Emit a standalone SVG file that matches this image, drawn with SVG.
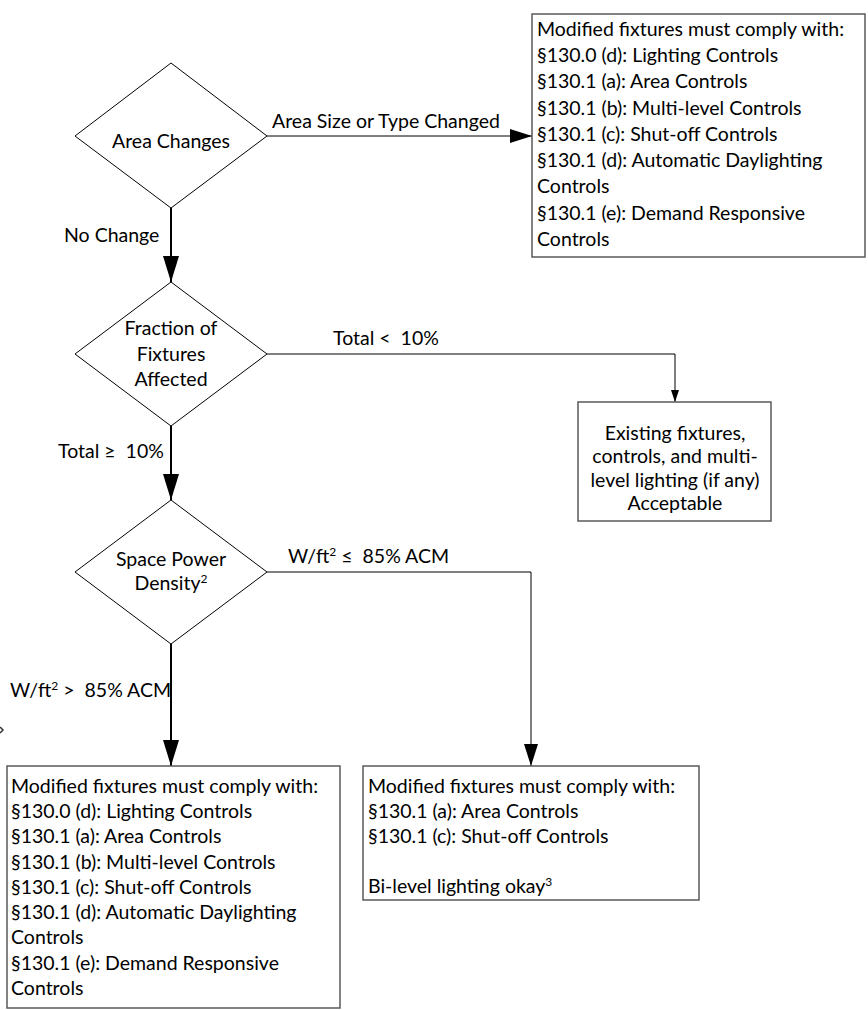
<svg xmlns="http://www.w3.org/2000/svg" width="868" height="1010" viewBox="0 0 868 1010">
<defs>
<style>
text{font-family:Lato,"Liberation Sans",sans-serif;font-size:19.5px;fill:#000;white-space:pre}
.c{text-anchor:middle}
.box{fill:#fff;stroke:#595959;stroke-width:1.5}
.dia{fill:#fff;stroke:#000;stroke-width:1}
.thin{fill:none;stroke:#000;stroke-width:1}
.thick{fill:none;stroke:#000;stroke-width:2}
</style>
<marker id="big" viewBox="0 0 26 16" refX="26" refY="8" markerWidth="26" markerHeight="16" markerUnits="userSpaceOnUse" orient="auto"><path d="M0,0L26,8L0,16z" fill="#000"/></marker>
<marker id="med" viewBox="0 0 22 14" refX="22" refY="7" markerWidth="22" markerHeight="14" markerUnits="userSpaceOnUse" orient="auto"><path d="M0,0L22,7L0,14z" fill="#000"/></marker>
<marker id="sm" viewBox="0 0 12 8" refX="12" refY="4" markerWidth="12" markerHeight="8" markerUnits="userSpaceOnUse" orient="auto"><path d="M0,0L12,4L0,8z" fill="#000"/></marker>
</defs>
<rect width="868" height="1010" fill="#fff"/>
<g id="connectors">
<path class="thin" d="M267,136H532" marker-end="url(#med)"/>
<path class="thick" d="M171,208V282" marker-end="url(#big)"/>
<path class="thin" d="M267,354H675V402" marker-end="url(#sm)"/>
<path class="thick" d="M171,426V500" marker-end="url(#big)"/>
<path class="thin" d="M267,572H531V766" marker-end="url(#med)"/>
<path class="thick" d="M171,644V766" marker-end="url(#big)"/>
<text x="272" y="128">Area Size or Type Changed</text>
<text x="64" y="242">No Change</text>
<text x="333" y="345">Total &lt;  10%</text>
<text x="58" y="458">Total ≥  10%</text>
<text x="288" y="563">W/ft<tspan font-size="12" dy="-7">2</tspan><tspan dy="7"> ≤  85% ACM</tspan></text>
<text x="10" y="697">W/ft<tspan font-size="12" dy="-7">2</tspan><tspan dy="7"> &gt;  85% ACM</tspan></text>
<path d="M0,727L3,730L0,733" fill="none" stroke="#333" stroke-width="1.5"/>
</g>
<g id="area-changes">
<polygon class="dia" points="171,63 267,136 171,208 75,136"/>
<text class="c" x="171" y="148">Area Changes</text>
</g>
<g id="modified-all-top">
<rect class="box" x="532" y="14" width="333" height="243"/>
<text x="537" y="36">Modified fixtures must comply with:</text>
<text x="537" y="62">§130.0 (d): Lighting Controls</text>
<text x="537" y="88">§130.1 (a): Area Controls</text>
<text x="537" y="115">§130.1 (b): Multi-level Controls</text>
<text x="537" y="141">§130.1 (c): Shut-off Controls</text>
<text x="537" y="167">§130.1 (d): Automatic Daylighting</text>
<text x="537" y="193">Controls</text>
<text x="537" y="220">§130.1 (e): Demand Responsive</text>
<text x="537" y="246">Controls</text>
</g>
<g id="fraction">
<polygon class="dia" points="171,282 267,354 171,426 75,354"/>
<text class="c" x="171" y="335">Fraction of</text>
<text class="c" x="171" y="361">Fixtures</text>
<text class="c" x="171" y="386">Affected</text>
</g>
<g id="existing">
<rect class="box" x="578" y="402" width="193" height="119"/>
<text class="c" x="675" y="440">Existing fixtures,</text>
<text class="c" x="675" y="463">controls, and multi-</text>
<text class="c" x="675" y="487">level lighting (if any)</text>
<text class="c" x="675" y="510">Acceptable</text>
</g>
<g id="spd">
<polygon class="dia" points="171,500 267,572 171,644 75,572"/>
<text class="c" x="171" y="566">Space Power</text>
<text class="c" x="171" y="590">Density<tspan font-size="12" dy="-7">2</tspan></text>
</g>
<g id="modified-all-bottom">
<rect class="box" x="7" y="766" width="333" height="242"/>
<text x="11" y="793">Modified fixtures must comply with:</text>
<text x="11" y="818">§130.0 (d): Lighting Controls</text>
<text x="11" y="843">§130.1 (a): Area Controls</text>
<text x="11" y="869">§130.1 (b): Multi-level Controls</text>
<text x="11" y="894">§130.1 (c): Shut-off Controls</text>
<text x="11" y="919">§130.1 (d): Automatic Daylighting</text>
<text x="11" y="944">Controls</text>
<text x="11" y="970">§130.1 (e): Demand Responsive</text>
<text x="11" y="995">Controls</text>
</g>
<g id="modified-partial">
<rect class="box" x="363" y="766" width="336" height="134"/>
<text x="368" y="793">Modified fixtures must comply with:</text>
<text x="368" y="818">§130.1 (a): Area Controls</text>
<text x="368" y="843">§130.1 (c): Shut-off Controls</text>
<text x="368" y="893">Bi-level lighting okay<tspan font-size="12" dy="-7">3</tspan></text>
</g>
</svg>
